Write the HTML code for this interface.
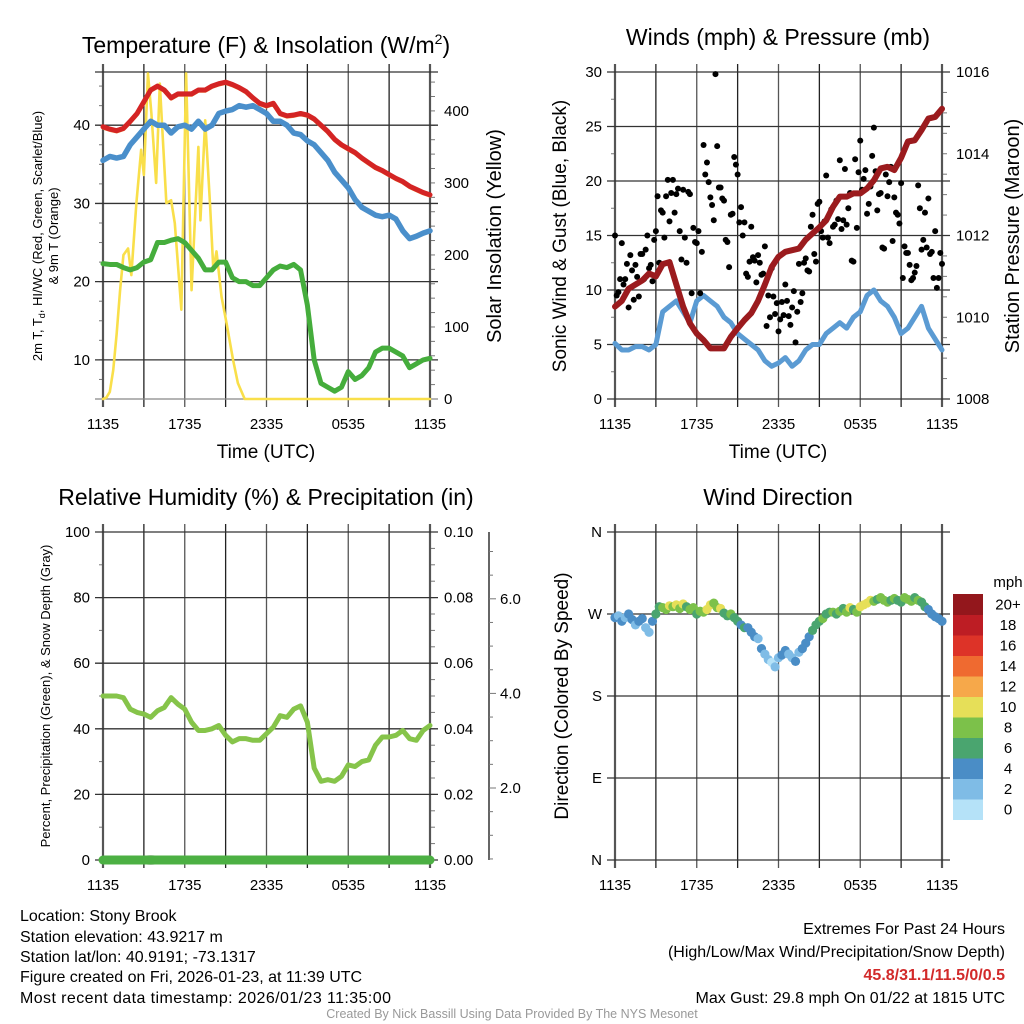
<!DOCTYPE html>
<html><head><meta charset="utf-8"><style>
html,body{margin:0;padding:0;background:#fff;}
svg{display:block;font-family:"Liberation Sans",sans-serif;}
</style></head><body>
<svg id="fig" xmlns="http://www.w3.org/2000/svg" width="1024" height="1024" viewBox="0 0 1024 1024">
<rect width="1024" height="1024" fill="#fff"/>
<text x="266" y="53" font-size="23" text-anchor="middle">Temperature (F) &amp; Insolation (W/m<tspan font-size="14" dy="-9">2</tspan><tspan dy="9">)</tspan></text>
<text x="778" y="45" font-size="23" text-anchor="middle">Winds (mph) &amp; Pressure (mb)</text>
<text x="266" y="505" font-size="23" text-anchor="middle">Relative Humidity (%) &amp; Precipitation (in)</text>
<text x="778" y="505" font-size="23" text-anchor="middle">Wind Direction</text>
<text x="266" y="458" font-size="19" text-anchor="middle">Time (UTC)</text>
<text x="778" y="458" font-size="19" text-anchor="middle">Time (UTC)</text>
<text transform="translate(42,236) rotate(-90)" font-size="13" text-anchor="middle">2m T, T<tspan font-size="9" dy="3">d</tspan><tspan dy="-3">, HI/WC (Red, Green, Scarlet/Blue)</tspan></text>
<text transform="translate(58,236) rotate(-90)" font-size="13" text-anchor="middle">&amp; 9m T (Orange)</text>
<text transform="translate(501,236) rotate(-90)" font-size="20" text-anchor="middle">Solar Insolation (Yellow)</text>
<text transform="translate(566,236) rotate(-90)" font-size="19" text-anchor="middle">Sonic Wind &amp; Gust (Blue, Black)</text>
<text transform="translate(1019,236) rotate(-90)" font-size="20" text-anchor="middle">Station Pressure (Maroon)</text>
<text transform="translate(50,696) rotate(-90)" font-size="13" text-anchor="middle">Percent, Precipitation (Green), &amp; Snow Depth (Gray)</text>
<text transform="translate(568,696) rotate(-90)" font-size="19" text-anchor="middle">Direction (Colored By Speed)</text>
<g id="p1"></g>
<g id="p2"></g>
<g id="p3"></g>
<g id="p4"></g>
<g id="cbar"></g>
<g font-family="Liberation Sans Narrow, Liberation Sans, sans-serif" font-size="16">
<text x="20" y="921">Location: Stony Brook</text>
<text x="20" y="942">Station elevation: 43.9217 m</text>
<text x="20" y="962">Station lat/lon: 40.9191; -73.1317</text>
<text x="20" y="982">Figure created on Fri, 2026-01-23, at 11:39 UTC</text>
<text x="20" y="1003" textLength="371">Most recent data timestamp: 2026/01/23 11:35:00</text>
<text x="1005" y="934" text-anchor="end">Extremes For Past 24 Hours</text>
<text x="1005" y="957" text-anchor="end">(High/Low/Max Wind/Precipitation/Snow Depth)</text>
<text x="1005" y="980" text-anchor="end" fill="#d22a2a" font-weight="bold">45.8/31.1/11.5/0/0.5</text>
<text x="1005" y="1003" text-anchor="end">Max Gust: 29.8 mph On 01/22 at 1815 UTC</text>
<text x="512" y="1018" text-anchor="middle" font-size="12.5" fill="#999">Created By Nick Bassill Using Data Provided By The NYS Mesonet</text>
</g>
</svg>
<script>
const xTickLabels = ['1135','1735','2335','0535','1135'];
const tempTicks = [10,20,30,40];
const solarTicks = [0,100,200,300,400];
const windTicks = [0,5,10,15,20,25,30];
const pressTicks = [1008,1010,1012,1014,1016];
const rhTicks = [0,20,40,60,80,100];
const precipTicks = ['0.00','0.02','0.04','0.06','0.08','0.10'];
const snowTicks = [2,4,6];
const dirTickLabels = ['N','E','S','W','N'];
const speedBinLabels = ['0','2','4','6','8','10','12','14','16','18','20+'];
const speedColors = ['#b5e2f8','#7fbce6','#4a8dc6','#4aa56f','#7cc14a','#e6df58','#f6a84a','#ef6a30','#dd3328','#bd1d24','#93171c'];

const tempRed = [39.8,39.5,39.3,39.6,40.5,41.5,43,44.5,45,44.5,43.5,44,44,44,44.5,44.5,45,45.3,45.5,45.2,44.8,44.3,43.5,42.8,42.5,42.8,41.5,41.2,41.3,41.5,41.3,40.8,40,39.2,38.2,37.5,37,36.5,35.8,35.2,34.6,34.2,33.7,33.2,32.8,32.2,31.8,31.4,31.1];
const tempBlue = [35.5,36,35.8,36,37.5,38.5,39.5,40.5,40,40,39,39.8,40,39.5,40.5,39.5,40,41.5,41.8,42,42.5,42.3,42.5,42,41.5,40.5,40.5,40,39,38.8,38,37.5,36.5,35.5,34,33,32,30.5,29.5,29,28.5,28.3,28.5,28,26.5,25.5,25.8,26.2,26.5];
const tempGreen = [22.3,22.2,22.2,21.8,21.5,21.8,22.5,22.8,25,25,25.3,25.5,25,24,23,21.5,21.5,22.5,22.5,20.5,20,20,19.5,19.5,20.5,21.5,22,21.8,22.2,21.5,17,10,7,6.5,6,6.5,8.5,7.5,8,9,11,11.5,11.5,11,10.5,9,9.5,10,10.2];
const solarHours = [0,0.25,0.5,0.75,1,1.25,1.5,1.84,2.08,2.45,2.8,3,3.3,3.55,3.9,4.17,4.65,5,5.27,5.75,6.1,6.5,7,7.15,7.5,7.85,8.1,8.33,8.7,9.07,9.55,9.9,10.4,24];
const solarValues = [0,2,10,40,90,150,200,209,172,272,346,311,452,397,300,438,272,276,244,124,452,151,350,248,387,272,179,205,142,105,54,22,0,0];
const windSpeed = [5.1,4.5,4.5,4.8,4.8,4.5,5,8,8.5,9,8,7,9,9.5,9,8.5,7.5,7,6,5.5,5,4.5,3.5,3,3.3,3.8,3,3.5,4.5,5,5,6,6.5,7,6.5,7.5,8,9.5,10,9,8.5,7.5,6,6.5,7.5,8.5,6.5,5.5,4.5];
const pressure = [1010.26,1010.4,1010.7,1010.8,1010.9,1011.07,1011.0,1011.3,1011.35,1010.8,1010.26,1009.85,1009.6,1009.44,1009.24,1009.24,1009.24,1009.52,1009.73,1009.93,1010.1,1010.4,1010.8,1011.23,1011.48,1011.6,1011.64,1011.68,1011.9,1012.05,1012.2,1012.37,1012.7,1012.95,1012.95,1013.03,1013.03,1013.15,1013.35,1013.64,1013.68,1013.6,1013.9,1014.3,1014.33,1014.58,1014.86,1014.9,1015.1];
const gustA = [15.0,9.8,14.3,11.0,8.4,11.8,12.3,9.4,13.3,13.7,12.0,10.8,15.4,12.5,17.1,18.6,16.3,20.1,18.8,15.4,19.2,12.5,18.8,15.7,14.3,9.7,23.3,21.7,18.5,16.4,23.2,19.4,18.2,14.4,16.9,22.2,20.6,17.6,16.2,11.2,15.8,12.7,13.2,11.4,14.0,9.5,12.0,7.8,6.2,8.9,10.5,7.6,8.4,5.2,12.4,9.7,12.9,11.7,16.9,12.6,18.1,14.8,20.5,14.3,15.8,18.2,21.9,16.4,16.0,18.9,12.6,15.7,23.7,20.2,17.0,19.5,24.9,17.3,18.9,13.8,18.6,21.3,18.5,16.9,19.8,14.0,13.4,10.9,11.6,19.6,13.7,17.1,18.4,13.5,15.4,11.1,12.4];
const gustB = [9.5,11.0,10.5,12.4,13.2,9.1,11.2,13.3,11.0,15.0,12.3,14.6,18.6,17.3,14.8,20.1,18.9,17.1,19.3,12.8,14.8,19.0,9.7,14.4,15.4,13.5,20.6,19.9,17.8,29.8,19.4,18.4,14.6,12.1,17.0,21.5,16.2,15.0,11.5,12.6,13.0,10.7,12.5,11.5,6.7,7.5,9.4,8.8,7.3,7.7,9.0,6.8,9.9,8.0,8.9,12.5,11.8,15.8,13.3,17.9,15.4,16.3,14.8,17.4,16.0,16.5,15.6,21.1,17.5,12.7,22.0,20.8,19.2,21.0,17.9,22.3,20.9,18.8,13.9,20.6,19.9,14.5,17.1,16.1,11.1,13.4,12.3,11.1,12.2,17.5,14.6,13.9,13.3,11.1,10.2,13.4];
const rh = [50,50,50,49.5,46,45,44.5,43.5,45.5,46.5,49.5,47.5,46,42,39.5,39.5,40,41,38,36,37,37,36.5,36.5,38.5,40.5,44,43.5,46,47,42,28,24,24.5,24,25.5,29,28.5,30,30.5,35,37.5,37.5,38,39.5,37,36.5,39.5,41];
const dirValues = [266,268,262,266,270,264,258,262,265,255,250,262,270,278,277,275,279,278,280,276,281,278,275,277,270,273,272,275,280,282,277,276,271,268,270,266,262,258,255,255,250,245,243,232,226,220,217,212,222,225,230,226,222,218,228,232,238,245,252,258,262,265,270,272,272,270,273,276,272,277,275,272,278,280,282,285,284,286,288,285,283,285,287,285,283,288,286,284,288,285,283,278,275,270,267,265,262];
const dirSpeeds = [4,3.5,4.5,3,4.5,4,3,5,4,3,2,5,6,7,8,9,10,9,10,8,10,7,8,9,6,8,9,10,10,8,9,11,7,6,8,7,6,5,7,4,4,4,3.5,4.5,2,3,1.5,3,3,4,4.5,2.5,3.5,4,3,4,4.5,5,6,7,6.5,8,7.5,7,8,6,9,7.5,8,10,7,9,10,11,10,10.5,8,7,9.5,8,9,7,8,7.5,6,9,8,8.5,7,8,6,7,5,4,4.5,4,4];

const NS='http://www.w3.org/2000/svg';
function mk(tag, parent, attrs){const e=document.createElementNS(NS,tag);for(const k in attrs)e.setAttribute(k,attrs[k]);parent.appendChild(e);return e;}
function xs(P,t){return P.x0+(t/24)*(P.x1-P.x0);}
function lin(v,d0,d1,r0,r1){return r0+(v-d0)/(d1-d0)*(r1-r0);}
const TF=15;

function frame(g,P,name){
  for(let i=0;i<=8;i++){
    const x=xs(P,i*3);
    const l=mk('line',g,{x1:x,x2:x,y1:P.y0-8,y2:P.y1+8,stroke:(i%2?'#222':'#555'),'stroke-width':(i===0||i===8)?2.2:1.3});
    
    
  }
  xTickLabels.forEach((s,i)=>{
    const t=mk('text',g,{x:xs(P,i*6),y:P.y1+30,'font-size':TF,'text-anchor':'middle'});
    t.textContent=s;
    
    
  });
}
function hgrid(g,P,y,name,lab,side,dashColor){
  const l=mk('line',g,{x1:P.x0-8,x2:P.x1+8,y1:y,y2:y,stroke:dashColor||'#333','stroke-width':1.3});
  
  
  if(lab!==null){
    const t=mk('text',g,{x:P.x0-13,y:y+5,'font-size':TF,'text-anchor':'end'});
    t.textContent=lab;
    
    
  }
}
function rlabel(g,P,y,lab,name){
  const t=mk('text',g,{x:P.x1+14,y:y+5,'font-size':TF,'text-anchor':'start'});
  t.textContent=lab;
  
  
}
function minor(g,x,y,len){const l=mk('line',g,{x1:x,x2:x+len,y1:y,y2:y,stroke:'#777','stroke-width':1});}
function poly(g,pts,color,w,name){
  const p=mk('polyline',g,{points:pts.map(a=>a.join(',')).join(' '),fill:'none',stroke:color,'stroke-width':w,'stroke-linejoin':'round','stroke-linecap':'round'});
  
  
  return p;
}

// Panel 1
(function(){
  const g=document.getElementById('p1');
  const P={x0:103,x1:430,y0:72,y1:399};
  const ty=v=>lin(v,5,46.8,P.y1,P.y0), sy=v=>lin(v,0,454,P.y1,P.y0);
  for(let v=5;v<=46;v+=2.5) minor(g,P.x0-4,ty(v),4);
  for(let v=0;v<=450;v+=20) minor(g,P.x1,sy(v),5);
  frame(g,P,'temp');
  tempTicks.forEach(v=>hgrid(g,P,ty(v),'temp',String(v),0));
  hgrid(g,P,P.y0,'temp-top',null,0);
  hgrid(g,P,P.y1,'temp-bottom',null,0,'#888');
  solarTicks.forEach(v=>rlabel(g,P,sy(v),String(v),'solar-tick-label'));
  poly(g,solarHours.map((h,i)=>[xs(P,h),sy(solarValues[i])]),'#f9df4a',2.6,'solar-insolation-line');
  poly(g,tempGreen.map((v,i)=>[xs(P,i*0.5),ty(v)]),'#45ad3c',5,'dewpoint-line');
  poly(g,tempBlue.map((v,i)=>[xs(P,i*0.5),ty(v)]),'#4a8fcb',5.5,'windchill-line');
  poly(g,tempRed.map((v,i)=>[xs(P,i*0.5),ty(v)+0.8]),'#f08a35',4,'temp-9m-line');
  poly(g,tempRed.map((v,i)=>[xs(P,i*0.5),ty(v)]),'#d42424',5,'temp-2m-line');
})();

// Panel 2
(function(){
  const g=document.getElementById('p2');
  const P={x0:615,x1:942,y0:72,y1:399};
  const wy=v=>lin(v,0,30,P.y1,P.y0), py=v=>lin(v,1008,1016,P.y1,P.y0);
  for(let v=0;v<=30;v+=2.5) minor(g,P.x0-4,wy(v),4);
  for(let v=1008;v<=1016;v+=0.5) minor(g,P.x1,py(v),5);
  frame(g,P,'winds');
  windTicks.forEach(v=>hgrid(g,P,wy(v),'winds',String(v),0));
  pressTicks.forEach(v=>rlabel(g,P,py(v),String(v),'pressure-tick-label'));
  poly(g,windSpeed.map((v,i)=>[xs(P,i*0.5),wy(v)]),'#5b9bd3',5,'sonic-wind-line');
  gustA.forEach((v,i)=>{
    const c=mk('circle',g,{cx:xs(P,i*0.25),cy:wy(v),r:3,fill:'#000'});
    
    
  });
  gustB.forEach((v,i)=>{
    const c=mk('circle',g,{cx:xs(P,0.125+i*0.25),cy:wy(v),r:3,fill:'#000'});
    
    
  });
  poly(g,pressure.map((v,i)=>[xs(P,i*0.5),py(v)]),'#9b1b1e',6,'pressure-line');
})();

// Panel 3
(function(){
  const g=document.getElementById('p3');
  const P={x0:103,x1:430,y0:532,y1:860};
  const ry=v=>lin(v,0,100,P.y1,P.y0);
  for(let v=0;v<=100;v+=10) minor(g,P.x0-4,ry(v),4);
  for(let v=0;v<=100;v+=5) minor(g,P.x1,ry(v),5);
  frame(g,P,'humidity');
  rhTicks.forEach(v=>hgrid(g,P,ry(v),'humidity',String(v),0));
  precipTicks.forEach((s,i)=>rlabel(g,P,ry(i*20),s,'precip-tick-label'));
  const ax=489;
  const sy=v=>788-(v-2)*47.3;
  const a=mk('line',g,{x1:ax,x2:ax,y1:P.y0,y2:P.y1,stroke:'#333','stroke-width':1.5});
  
  
  for(let v=0.5;v<=7.5;v+=0.5){const y=sy(v);if(y<P.y0||y>P.y1)continue;minor(g,ax,y,(v%2===0)?7:4);}
  snowTicks.forEach(v=>{
    const t=mk('text',g,{x:ax+11,y:sy(v)+5,'font-size':TF});
    t.textContent=v.toFixed(1);
    
    
  });
  poly(g,rh.map((v,i)=>[xs(P,i*0.5),ry(v)]),'#86c44a',5,'relative-humidity-line');
  const sn=mk('ellipse',g,{cx:xs(P,3.5),cy:P.y1,rx:9,ry:5,fill:'#c8c8c8'});
  
  
  poly(g,[[P.x0,P.y1],[P.x1,P.y1]],'#4cb043',9,'precipitation-line');
})();

// Panel 4
(function(){
  const g=document.getElementById('p4');
  const P={x0:615,x1:942,y0:532,y1:860};
  const dy=v=>lin(v,0,360,P.y1,P.y0);
  frame(g,P,'direction');
  dirTickLabels.forEach((s,i)=>hgrid(g,P,dy(i*90),'direction',s,0));
  const bin=s=>Math.min(10,Math.floor(s/2));
  dirValues.forEach((v,i)=>{
    const c=mk('circle',g,{cx:xs(P,i*0.25),cy:dy(v),r:4.6,fill:speedColors[bin(dirSpeeds[i])]});
    
    
  });
  const cb=document.getElementById('cbar');
  const top=594,h=20.5;
  const m=mk('text',cb,{x:1008,y:587,'font-size':15,'text-anchor':'middle'});
  m.textContent='mph';
  
  
  speedBinLabels.forEach((s,i)=>{
    const k=10-i;
    const r=mk('rect',cb,{x:953,y:top+k*h,width:30,height:h+0.5,fill:speedColors[i]});
    
    
    const t=mk('text',cb,{x:1008,y:top+k*h+h/2+5,'font-size':15,'text-anchor':'middle'});
    t.textContent=s;
    
    
  });
})();
</script>
</body></html>
